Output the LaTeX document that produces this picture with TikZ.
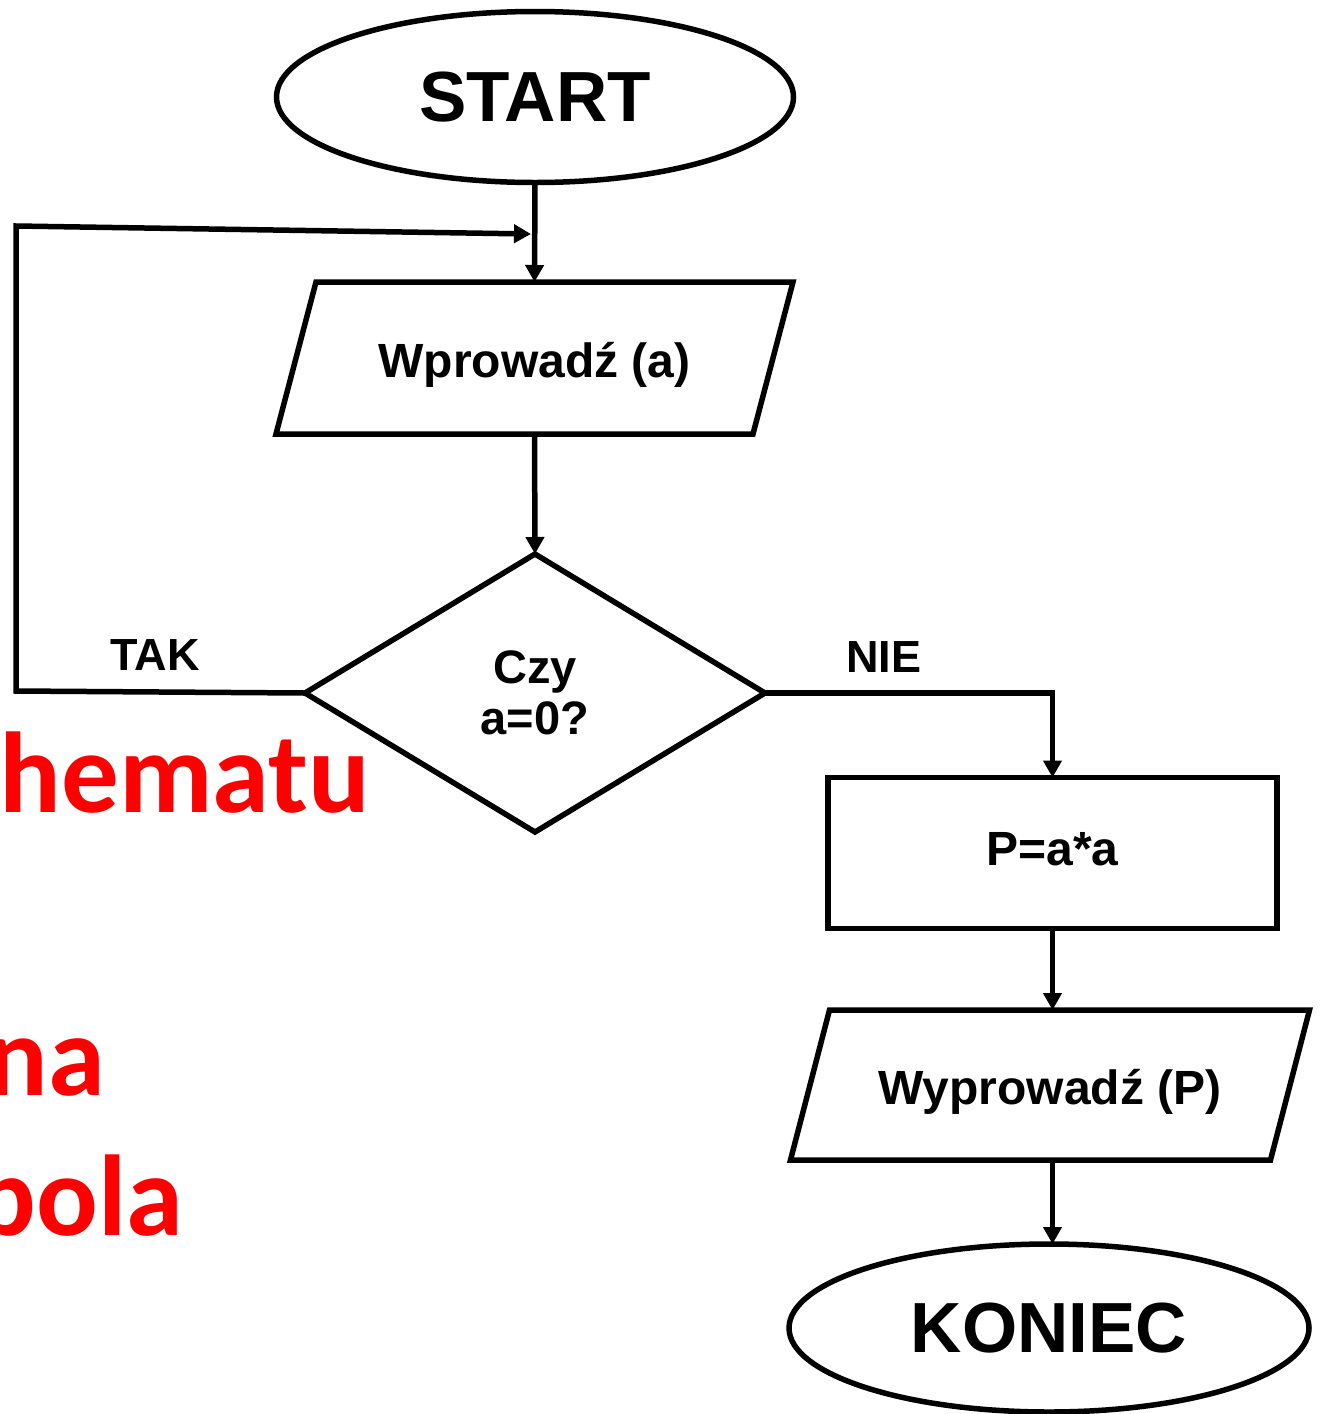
\documentclass[tikz,border=0pt]{standalone}
\usepackage{fontspec}
\setmainfont{Liberation Sans}
\newfontfamily\calfont{Carlito}
\usetikzlibrary{shapes.geometric,arrows.meta}

\tikzset{
  every node/.style={inner sep=0pt, outer sep=0pt},
  flow/.style={draw=black, line width=5.5pt, line join=miter},
  terminal/.style={flow, fill=white, ellipse, font=\fontsize{71}{71}\selectfont\bfseries},
  % the body of an input/output block; its slanted outline is drawn separately
  iobody/.style={rectangle, text height=48pt, text depth=10pt,
    font=\fontsize{48}{48}\selectfont\bfseries},
  procbox/.style={flow, fill=white, rectangle, text depth=8pt,
    font=\fontsize{48}{48}\selectfont\bfseries},
  decision/.style={flow, fill=white, diamond, align=center, font=\fontsize{47}{51}\selectfont\bfseries},
  branchlabel/.style={font=\fontsize{45}{45}\selectfont\bfseries},
  redword/.style={anchor=base east, text=red, font=\fontsize{115}{115}\selectfont\calfont\bfseries},
  arr/.style={line width=5.5pt, -{Triangle[length=17pt,width=18pt]}, line join=miter}
}

\begin{document}
\begin{tikzpicture}[x=1pt, y=-1pt]
  \useasboundingbox (0,0) rectangle (1322,1414);
  \clip (0,0) rectangle (1322,1414);
  \fill[white] (0,0) rectangle (1322,1414);

  % red words running off the left edge
  \node[redword] (w1) at (370,812) {hematu};
  \node[redword] (w2) at (105,1095) {na};
  \node[redword] (w3) at (183,1235) {pola};

  % flowchart blocks
  \node[terminal, minimum width=517pt, minimum height=171pt] (start) at (535,97) {START};
  \node[iobody, minimum width=477pt, minimum height=152pt] (in) at (534.5,358) {Wprowadź (a)};
  \draw[flow] ([xshift=-20pt]in.south west) -- ([xshift=20pt]in.north west)
      -- ([xshift=20pt]in.north east) -- ([xshift=-20pt]in.south east) -- cycle;
  \node[decision, minimum width=460pt, minimum height=278pt] (dec) at (535,693) {Czy\\a=0?};
  \node[procbox, minimum width=449pt, minimum height=151pt] (proc) at (1052.5,853) {P=a*a};
  \node[iobody, minimum width=480pt, minimum height=150pt] (out) at (1050,1085) {Wyprowadź (P)};
  \draw[flow] ([xshift=-19.5pt]out.south west) -- ([xshift=19.5pt]out.north west)
      -- ([xshift=19.5pt]out.north east) -- ([xshift=-19.5pt]out.south east) -- cycle;
  \node[terminal, minimum width=520pt, minimum height=168pt] (stop) at (1049,1328) {KONIEC};

  % branch labels
  \node[branchlabel] (tak) at (155,655) {TAK};
  \node[branchlabel] (nie) at (884,657) {NIE};

  % loop back to the input
  \coordinate (loopBL) at (16,691);
  \coordinate (loopTL) at (16,226);
  \coordinate (join) at (531,234);

  % connectors
  \draw[arr] (start.south) -- (in.north);
  \draw[arr] (in.south) -- (dec.north);
  \draw[arr] (dec.west) -- (loopBL) -- (loopTL) -- (join);
  \draw[arr] (dec.east) -| (proc.north);
  \draw[arr] (proc.south) -- (proc.south |- out.north);
  \draw[arr] (proc.south |- out.south) -- (proc.south |- stop.north);
\end{tikzpicture}
\end{document}
